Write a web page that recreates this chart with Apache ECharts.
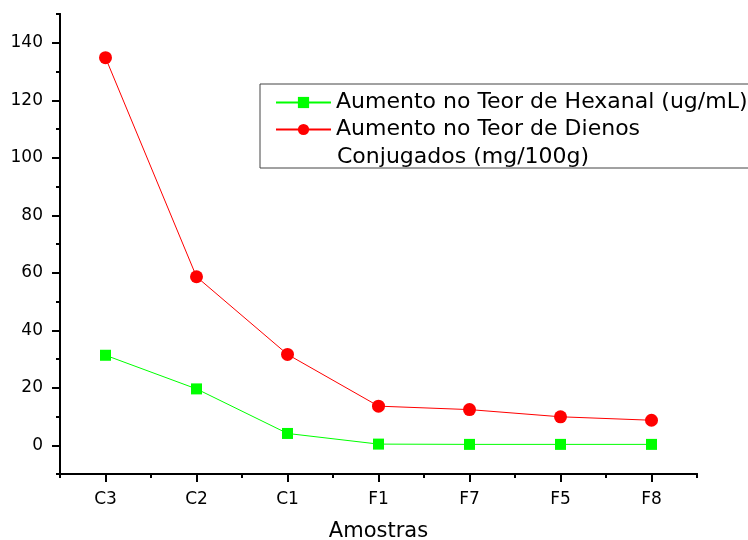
<!DOCTYPE html>
<html>
<head>
<meta charset="utf-8">
<script src="https://cdn.jsdelivr.net/npm/echarts@6/dist/echarts.min.js"></script>
<style>
  html, body { margin: 0; padding: 0; background: #fff; }
  #chart { width: 748px; height: 540px; }
</style>
</head>
<body>
<div id="chart"></div>
<script>
// Samples along the x axis
const categories = ['C3', 'C2', 'C1', 'F1', 'F7', 'F5', 'F8'];
// Increase in hexanal content (ug/mL)
const hexanal = [31.3, 19.6, 4.1, 0.4, 0.3, 0.3, 0.3];
// Increase in conjugated dienes (mg/100g)
const dienos = [134.8, 58.6, 31.6, 13.6, 12.4, 9.9, 8.7];
// Y axis labelled ticks and minor ticks
const yMajorTicks = [0, 20, 40, 60, 80, 100, 120, 140];
const yMinorTicks = [-10, 10, 30, 50, 70, 90, 110, 130, 150];

const seriesNames = ['Aumento no Teor de Hexanal (ug/mL)', 'Aumento no Teor de Dienos'];
const secondLine = 'Conjugados (mg/100g)';

const FONT = 'DejaVu Sans';
const chart = echarts.init(document.getElementById('chart'), null, { renderer: 'canvas' });

const axisLine = { show: true, onZero: false, lineStyle: { color: '#000', width: 2 } };

chart.setOption({
  animation: false,
  backgroundColor: '#fff',
  grid: { left: 60, right: 51, top: 14, bottom: 66, containLabel: false, outerBoundsMode: 'none' },
  legend: {
    orient: 'vertical',
    left: 260,
    top: 84,
    padding: [5, 60, 25, 15],
    itemGap: 0,
    itemWidth: 55,
    itemHeight: 14,
    borderColor: '#444',
    borderWidth: 1,
    textStyle: { fontFamily: FONT, fontSize: 22, color: '#000', lineHeight: 27 },
    data: seriesNames
  },
  graphic: [{
    type: 'text',
    left: 337,
    top: 146,
    style: { text: secondLine, font: '22px "DejaVu Sans"', fill: '#000' }
  }],
  xAxis: [{
    type: 'category',
    data: categories,
    boundaryGap: true,
    position: 'bottom',
    axisLine: axisLine,
    axisTick: { show: true, alignWithLabel: true, length: 8, lineStyle: { color: '#000', width: 2 } },
    axisLabel: { fontFamily: FONT, fontSize: 17, color: '#000', margin: 17 },
    splitLine: { show: false },
    name: 'Amostras',
    nameLocation: 'middle',
    nameGap: 47,
    nameTextStyle: { fontFamily: FONT, fontSize: 21, color: '#000' }
  }, {
    type: 'category',
    data: categories,
    boundaryGap: true,
    position: 'bottom',
    axisLine: axisLine,
    axisTick: { show: true, alignWithLabel: false, length: 4, lineStyle: { color: '#000', width: 2 } },
    axisLabel: { show: false },
    splitLine: { show: false }
  }],
  yAxis: [{
    type: 'value',
    min: -10,
    max: 150,
    position: 'left',
    axisLine: axisLine,
    axisTick: { show: true, length: 8, customValues: yMajorTicks, lineStyle: { color: '#000', width: 2 } },
    axisLabel: { fontFamily: FONT, fontSize: 17, color: '#000', margin: 17, customValues: yMajorTicks },
    splitLine: { show: false }
  }, {
    type: 'value',
    min: -10,
    max: 150,
    position: 'left',
    axisLine: axisLine,
    axisTick: { show: true, length: 4, customValues: yMinorTicks, lineStyle: { color: '#000', width: 2 } },
    axisLabel: { show: false },
    splitLine: { show: false }
  }],
  series: [{
    name: seriesNames[0],
    type: 'line',
    xAxisIndex: 0,
    yAxisIndex: 0,
    data: hexanal,
    symbol: 'rect',
    symbolSize: 11,
    itemStyle: { color: '#00ff00' },
    lineStyle: { color: '#00ff00', width: 1 }
  }, {
    name: seriesNames[1],
    type: 'line',
    xAxisIndex: 0,
    yAxisIndex: 0,
    data: dienos,
    symbol: 'circle',
    symbolSize: 13,
    itemStyle: { color: '#ff0000' },
    lineStyle: { color: '#ff0000', width: 1 }
  }]
});
</script>
</body>
</html>
